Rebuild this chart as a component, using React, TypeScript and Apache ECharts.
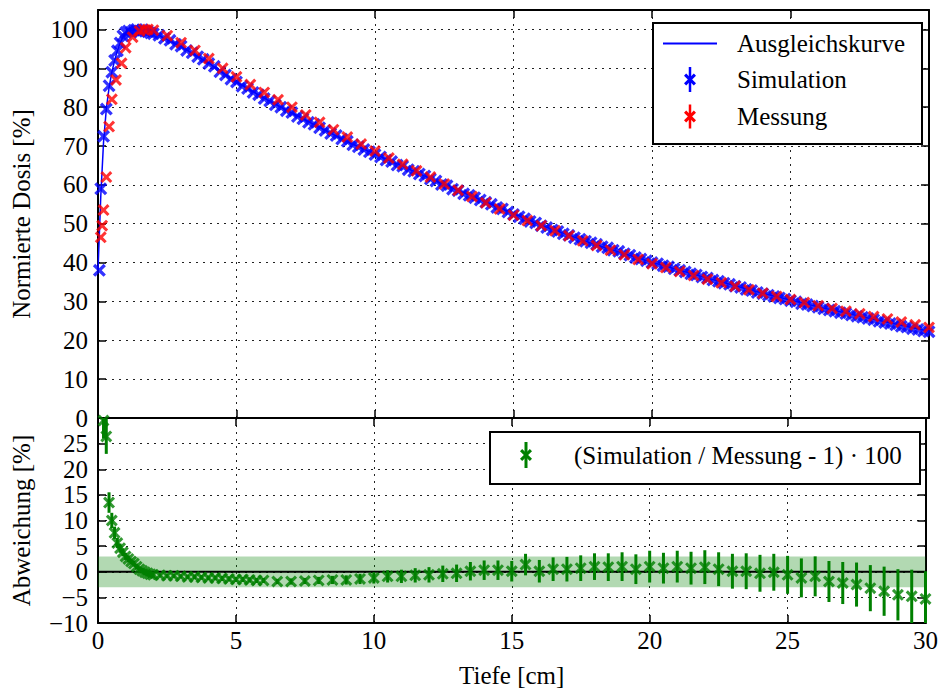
import React, { useEffect, useRef } from "react";
import * as echarts from "echarts";

// ---------- data ----------
const simDepth = [
  0.05, 0.1, 0.2, 0.3, 0.4, 0.5, 0.6, 0.7, 0.8, 0.9, 1.0, 1.1, 1.2, 1.3, 1.4, 1.5, 1.6, 1.7, 1.8, 1.9, 2.0,
  2.2, 2.4, 2.6, 2.8, 3.0, 3.2, 3.4, 3.6, 3.8, 4.0, 4.2, 4.4, 4.6, 4.8, 5.0, 5.2, 5.4, 5.6, 5.8, 6.0,
  6.2, 6.4, 6.6, 6.8, 7.0, 7.2, 7.4, 7.6, 7.8, 8.0, 8.2, 8.4, 8.6, 8.8, 9.0, 9.2, 9.4, 9.6, 9.8, 10.0,
  10.2, 10.4, 10.6, 10.8, 11.0, 11.2, 11.4, 11.6, 11.8, 12.0, 12.2, 12.4, 12.6, 12.8, 13.0, 13.2, 13.4, 13.6, 13.8, 14.0,
  14.2, 14.4, 14.6, 14.8, 15.0, 15.2, 15.4, 15.6, 15.8, 16.0, 16.2, 16.4, 16.6, 16.8, 17.0, 17.2, 17.4, 17.6, 17.8, 18.0,
  18.2, 18.4, 18.6, 18.8, 19.0, 19.2, 19.4, 19.6, 19.8, 20.0, 20.2, 20.4, 20.6, 20.8, 21.0, 21.2, 21.4, 21.6, 21.8, 22.0,
  22.2, 22.4, 22.6, 22.8, 23.0, 23.2, 23.4, 23.6, 23.8, 24.0, 24.2, 24.4, 24.6, 24.8, 25.0, 25.2, 25.4, 25.6, 25.8, 26.0,
  26.2, 26.4, 26.6, 26.8, 27.0, 27.2, 27.4, 27.6, 27.8, 28.0, 28.2, 28.4, 28.6, 28.8, 29.0, 29.2, 29.4, 29.6, 29.8, 30.0,
];
const simDose = [
  38, 59, 72.5, 79.5, 85.5, 89, 92, 94.5, 96.5, 98.3, 99.2, 99.6, 99.3, 99.8, 100, 99.6, 99.9, 99.5, 99.4, 99.1, 98.9,
  98.5, 97.7, 97.2, 96.2, 95.7, 94.6, 94.0, 93.0, 92.3, 91.2, 90.5, 89.1, 88.3, 87.2, 86.5, 85.4, 84.8, 83.8, 83.2, 82.2,
  81.6, 80.6, 80.0, 79.1, 78.6, 77.6, 77.0, 76.1, 75.6, 74.7, 74.0, 73.2, 72.7, 71.8, 71.2, 70.3, 69.8, 69.1, 68.5, 67.8,
  67.2, 66.4, 66.0, 65.1, 64.8, 63.9, 63.5, 62.8, 62.3, 61.5, 61.0, 60.1, 59.8, 58.9, 58.5, 57.7, 57.3, 56.7, 56.1, 55.5,
  55.0, 54.2, 53.8, 53.0, 52.4, 51.8, 51.3, 50.6, 50.2, 49.5, 49.0, 48.4, 48.0, 47.4, 47.0, 46.4, 46.0, 45.5, 45.1, 44.7,
  44.1, 43.8, 43.2, 42.9, 42.3, 41.9, 41.3, 40.9, 40.5, 40.0, 39.7, 39.2, 38.9, 38.4, 38.0, 37.6, 37.1, 36.8, 36.3, 36.0,
  35.5, 35.2, 34.7, 34.4, 33.9, 33.6, 33.1, 32.8, 32.3, 32.0, 31.6, 31.3, 30.9, 30.6, 30.2, 29.9, 29.4, 29.2, 28.8, 28.5,
  28.1, 27.8, 27.5, 27.1, 26.9, 26.5, 26.2, 25.9, 25.6, 25.3, 24.9, 24.6, 24.3, 24.0, 23.6, 23.4, 23.0, 22.8, 22.4, 22.2,
];

const measDepth = [
  0.1, 0.15, 0.2, 0.3, 0.4, 0.5, 0.65, 0.85, 1.0, 1.25, 1.5, 1.65, 1.8, 2.0,
  2.5, 3.0, 3.5, 4.0, 4.5, 5.0, 5.5, 6.0, 6.5, 7.0, 7.5, 8.0, 8.5, 9.0, 9.5, 10.0,
  10.5, 11.0, 11.5, 12.0, 12.5, 13.0, 13.5, 14.0, 14.5, 15.0, 15.5, 16.0, 16.5, 17.0, 17.5, 18.0,
  18.5, 19.0, 19.5, 20.0, 20.5, 21.0, 21.5, 22.0, 22.5, 23.0, 23.5, 24.0, 24.5, 25.0, 25.5, 26.0,
  26.5, 27.0, 27.5, 28.0, 28.5, 29.0, 29.5, 30.0,
];
const measDose = [
  46.5, 49.5, 53.5, 62, 75, 82, 87, 91.3, 95.3, 98, 99.6, 100, 100, 99.8,
  98.4, 96.6, 94.6, 92.5, 90.0, 87.8, 85.8, 83.8, 81.9, 80.0, 78.0, 76.1, 74.2, 72.3, 70.5, 68.7,
  66.9, 65.3, 63.6, 62.0, 60.2, 58.6, 57.0, 55.4, 53.8, 52.2, 50.8, 49.5, 48.2, 46.9, 45.6, 44.4,
  43.2, 42.0, 40.8, 39.7, 38.7, 37.7, 36.7, 35.7, 34.8, 33.9, 33.0, 32.1, 31.3, 30.5, 29.7, 28.9,
  28.2, 27.5, 26.8, 26.1, 25.5, 24.7, 24.0, 23.3,
];

const fitDepth = [0, 0.1, 0.2, 0.3, 0.4, 0.5, 0.6, 0.7, 0.8, 0.9, 1.0, 1.2, 1.5, 2, 3, 4, 5, 6, 7, 8, 9, 10, 12, 14, 16, 18, 20, 22, 24, 26, 28, 30];
const fitDose = [38, 57, 71, 79.5, 85, 89, 92, 94.5, 96.5, 98, 99, 99.7, 100, 99.1, 95.6, 91.3, 86.5, 82.3, 78.5, 74.8, 71.1, 67.9, 61.6, 55.6, 49.6, 44.5, 40.1, 36.0, 32.1, 28.6, 25.4, 22.3];

const devDepth = [
  0.2, 0.3, 0.4, 0.5, 0.6, 0.7, 0.8, 0.9, 1.0, 1.1, 1.2, 1.3, 1.4, 1.5, 1.6, 1.7, 1.8, 1.9, 2.0,
  2.25, 2.5, 2.75, 3.0, 3.25, 3.5, 3.75, 4.0, 4.25, 4.5, 4.75, 5.0, 5.25, 5.5, 5.75, 6.0,
  6.5, 7.0, 7.5, 8.0, 8.5, 9.0, 9.5, 10.0, 10.5, 11.0, 11.5, 12.0, 12.5, 13.0, 13.5, 14.0, 14.5, 15.0,
  15.5, 16.0, 16.5, 17.0, 17.5, 18.0, 18.5, 19.0, 19.5, 20.0, 20.5, 21.0, 21.5, 22.0, 22.5, 23.0, 23.5,
  24.0, 24.5, 25.0, 25.5, 26.0, 26.5, 27.0, 27.5, 28.0, 28.5, 29.0, 29.5, 30.0,
];
const devValue = [
  29.5, 26.4, 13.5, 10.0, 7.6, 5.6, 4.6, 3.8, 3.0, 2.5, 2.0, 1.6, 1.0, 0.5, 0.2, -0.1, -0.3, -0.5, -0.6,
  -0.7, -0.8, -0.8, -0.9, -1.0, -1.0, -1.1, -1.2, -1.2, -1.3, -1.4, -1.5, -1.5, -1.6, -1.7, -1.7,
  -1.9, -1.9, -1.8, -1.7, -1.6, -1.6, -1.4, -1.2, -0.9, -0.9, -0.7, -0.6, -0.4, -0.3, 0.1, 0.3, 0.3, 0.1,
  1.4, 0.1, 0.5, 0.5, 0.7, 1.0, 0.9, 1.0, 0.5, 1.0, 0.7, 1.0, 0.7, 0.9, 0.5, 0.1, 0.1,
  -0.3, -0.1, -0.6, -1.2, -0.9, -1.9, -2.2, -2.5, -3.2, -3.8, -4.5, -4.8, -5.3,
];
const devError = [
  3.5, 3.4, 2.0, 1.5, 1.2, 1.0, 0.9, 0.8, 0.7, 0.7, 0.6, 0.6, 0.6, 0.5, 0.5, 0.5, 0.5, 0.5, 0.5,
  0.4, 0.4, 0.4, 0.4, 0.4, 0.45, 0.45, 0.45, 0.45, 0.5, 0.5, 0.5, 0.5, 0.5, 0.5, 0.5,
  0.5, 0.6, 0.6, 0.7, 0.8, 0.9, 1.0, 1.1, 1.2, 1.3, 1.4, 1.5, 1.6, 1.7, 1.8, 1.9, 1.9, 2.0,
  2.1, 2.2, 2.3, 2.4, 2.5, 2.6, 2.7, 2.8, 2.9, 3.1, 3.0, 3.1, 3.2, 3.3, 3.3, 3.4, 3.5,
  3.6, 3.6, 3.7, 3.8, 3.9, 4.0, 4.1, 4.3, 4.5, 4.8, 5.0, 5.2, 5.4,
];
const toleranceBand = [-3, 3];
const zeroLine = [0, 0];

const xRange = [0, 30];
const doseRange = [0, 105];
const devRange = [-10, 30];

const labelX = "Tiefe [cm]";
const labelDose = "Normierte Dosis [%]";
const labelDev = "Abweichung [%]";
const seriesNames = ["Ausgleichskurve", "Simulation", "Messung"];
const devName = "(Simulation / Messung - 1) · 100";

// ---------- styling ----------
const FONT = "'Liberation Serif', 'Times New Roman', serif";
const BLUE = "#0000ff";
const RED = "#ff0000";
const GREEN = "#008000";
const X_PTS = [[1.8, 0], [5, 3.2], [8.2, 0], [10, 1.8], [6.8, 5], [10, 8.2], [8.2, 10], [5, 6.8], [1.8, 10], [0, 8.2], [3.2, 5], [0, 1.8]];
const X_MARK = "path://M" + X_PTS.map((p) => p.join(",")).join("L") + "Z";

function xMarkPoints(cx: number, cy: number, s: number) {
  const k = s / 10;
  return X_PTS.map(([a, b]) => [cx + (a - 5) * k, cy + (b - 5) * k]);
}

const pairs = (xs: number[], ys: number[]) => {
  const n = Math.min(xs.length, ys.length);
  const out: number[][] = [];
  for (let i = 0; i < n; i++) out.push([xs[i], ys[i]]);
  return out;
};

export default function App() {
  const ref = useRef<HTMLDivElement>(null);

  useEffect(() => {
    document.body.style.margin = "0";
    if (!ref.current) return;
    const chart = echarts.init(ref.current, undefined, { renderer: "svg" });

    const frameLine = { show: true, onZero: false, lineStyle: { color: "#000", width: 2 } };
    const tickIn = { show: true, inside: true, length: 8, lineStyle: { color: "#000", width: 1.5 } };
    const dotted = { show: true, lineStyle: { color: "#222", type: [2, 5], width: 1 } };
    const labelStyle = { fontSize: 25, color: "#000", fontFamily: FONT };
    const minus = (v: number) => String(v).replace("-", "\u2212");

    const xBase = { type: "value", min: xRange[0], max: xRange[1], interval: 5, axisLine: frameLine, axisTick: tickIn };
    const errData = devDepth.map((d, i) => [d, devValue[i] - devError[i], devValue[i] + devError[i]]);

    const option: any = {
      animation: false,
      backgroundColor: "#fff",
      textStyle: { fontFamily: FONT },
      grid: [
        { left: 98, top: 10, width: 831, height: 408, show: false },
        { left: 98, top: 418, width: 831, height: 205, show: false },
      ],
      xAxis: [
        { ...xBase, gridIndex: 0, position: "bottom", axisLabel: { show: false }, splitLine: dotted },
        { ...xBase, gridIndex: 0, position: "top", axisLabel: { show: false }, splitLine: { show: false } },
        {
          ...xBase, gridIndex: 1, position: "bottom", splitLine: dotted,
          axisLabel: { ...labelStyle, margin: 5 },
          name: labelX, nameLocation: "middle", nameGap: 40, nameTextStyle: labelStyle,
        },
        { ...xBase, gridIndex: 1, position: "top", axisLabel: { show: false }, splitLine: { show: false } },
      ],
      yAxis: [
        {
          type: "value", gridIndex: 0, position: "left", min: doseRange[0], max: doseRange[1], interval: 10,
          axisLine: frameLine, axisTick: tickIn, splitLine: dotted,
          axisLabel: { ...labelStyle, margin: 10, showMaxLabel: false, formatter: (v: number) => (v > 100 ? "" : minus(v)) },
          name: labelDose, nameLocation: "middle", nameGap: 64, nameTextStyle: labelStyle,
        },
        {
          type: "value", gridIndex: 0, position: "right", min: doseRange[0], max: doseRange[1], interval: 10,
          axisLine: frameLine, axisTick: tickIn, splitLine: { show: false }, axisLabel: { show: false },
        },
        {
          type: "value", gridIndex: 1, position: "left", min: devRange[0], max: devRange[1], interval: 5,
          axisLine: frameLine, axisTick: tickIn, splitLine: dotted,
          axisLabel: { ...labelStyle, margin: 10, showMaxLabel: false, formatter: (v: number) => (v >= 30 ? "" : minus(v)) },
          name: labelDev, nameLocation: "middle", nameGap: 64, nameTextStyle: labelStyle,
        },
        {
          type: "value", gridIndex: 1, position: "right", min: devRange[0], max: devRange[1], interval: 5,
          axisLine: frameLine, axisTick: tickIn, splitLine: { show: false }, axisLabel: { show: false },
        },
      ],
      series: [
        {
          name: seriesNames[1], type: "scatter", xAxisIndex: 0, yAxisIndex: 0,
          data: pairs(simDepth, simDose), symbol: X_MARK, symbolSize: 13,
          itemStyle: { color: BLUE }, z: 2, clip: true,
        },
        {
          name: seriesNames[0], type: "line", xAxisIndex: 0, yAxisIndex: 0,
          data: pairs(fitDepth, fitDose), showSymbol: false, symbol: "none",
          lineStyle: { color: BLUE, width: 1.5 }, z: 3,
        },
        {
          name: seriesNames[2], type: "scatter", xAxisIndex: 0, yAxisIndex: 0,
          data: pairs(measDepth, measDose), symbol: X_MARK, symbolSize: 12,
          itemStyle: { color: RED }, z: 4, clip: true,
        },
        {
          name: "band", type: "line", xAxisIndex: 2, yAxisIndex: 2, data: [], z: 1, silent: true,
          markArea: {
            silent: true,
            itemStyle: { color: "rgba(0,128,0,0.3)" },
            data: [[{ yAxis: toleranceBand[0] }, { yAxis: toleranceBand[1] }]],
          },
        },
        {
          name: "zero", type: "line", xAxisIndex: 2, yAxisIndex: 2,
          data: pairs(xRange, zeroLine), showSymbol: false, symbol: "none",
          lineStyle: { color: "#000", width: 2 }, z: 2, silent: true,
        },
        {
          name: "devErr", type: "custom", xAxisIndex: 2, yAxisIndex: 2, z: 3,
          data: errData, encode: { x: 0, y: [1, 2] },
          renderItem: (_p: any, api: any) => {
            const x = api.value(0);
            const lo = Math.max(api.value(1), devRange[0]);
            const hi = Math.min(api.value(2), devRange[1]);
            const a = api.coord([x, lo]);
            const b = api.coord([x, hi]);
            return {
              type: "line",
              shape: { x1: a[0], y1: a[1], x2: b[0], y2: b[1] },
              style: { stroke: GREEN, lineWidth: 3 },
            };
          },
        },
        {
          name: devName, type: "scatter", xAxisIndex: 2, yAxisIndex: 2,
          data: pairs(devDepth, devValue), symbol: X_MARK, symbolSize: 12,
          itemStyle: { color: GREEN }, z: 4, clip: true,
        },
      ],
      graphic: [
        // legend, top panel
        { type: "rect", z: 100, shape: { x: 653, y: 23, width: 269, height: 121 }, style: { fill: "#fff", stroke: "#000", lineWidth: 2 } },
        { type: "line", z: 101, shape: { x1: 663, y1: 43.5, x2: 717, y2: 43.5 }, style: { stroke: BLUE, lineWidth: 2 } },
        { type: "line", z: 101, shape: { x1: 690, y1: 67, x2: 690, y2: 92 }, style: { stroke: BLUE, lineWidth: 2.5 } },
        { type: "polygon", z: 101, shape: { points: xMarkPoints(690, 79.5, 12) }, style: { fill: BLUE } },
        { type: "line", z: 101, shape: { x1: 690, y1: 104.5, x2: 690, y2: 128.5 }, style: { stroke: RED, lineWidth: 2.5 } },
        { type: "polygon", z: 101, shape: { points: xMarkPoints(690, 116.5, 12) }, style: { fill: RED } },
        { type: "text", z: 101, x: 737, y: 43.5, style: { text: seriesNames[0], fontSize: 25, fontFamily: FONT, fill: "#000", verticalAlign: "middle", align: "left" } },
        { type: "text", z: 101, x: 737, y: 79, style: { text: seriesNames[1], fontSize: 25, fontFamily: FONT, fill: "#000", verticalAlign: "middle", align: "left" } },
        { type: "text", z: 101, x: 737, y: 116, style: { text: seriesNames[2], fontSize: 25, fontFamily: FONT, fill: "#000", verticalAlign: "middle", align: "left" } },
        // legend, bottom panel
        { type: "rect", z: 100, shape: { x: 490, y: 432, width: 430, height: 52 }, style: { fill: "#fff", stroke: "#000", lineWidth: 2 } },
        { type: "line", z: 101, shape: { x1: 526, y1: 442, x2: 526, y2: 468 }, style: { stroke: GREEN, lineWidth: 3 } },
        { type: "polygon", z: 101, shape: { points: xMarkPoints(526, 455, 12) }, style: { fill: GREEN } },
        { type: "text", z: 101, x: 574, y: 455, style: { text: devName, fontSize: 25, fontFamily: FONT, fill: "#000", verticalAlign: "middle", align: "left" } },
      ],
    };

    chart.setOption(option);
    return () => chart.dispose();
  }, []);

  return <div ref={ref} style={{ width: 941, height: 691 }} />;
}
